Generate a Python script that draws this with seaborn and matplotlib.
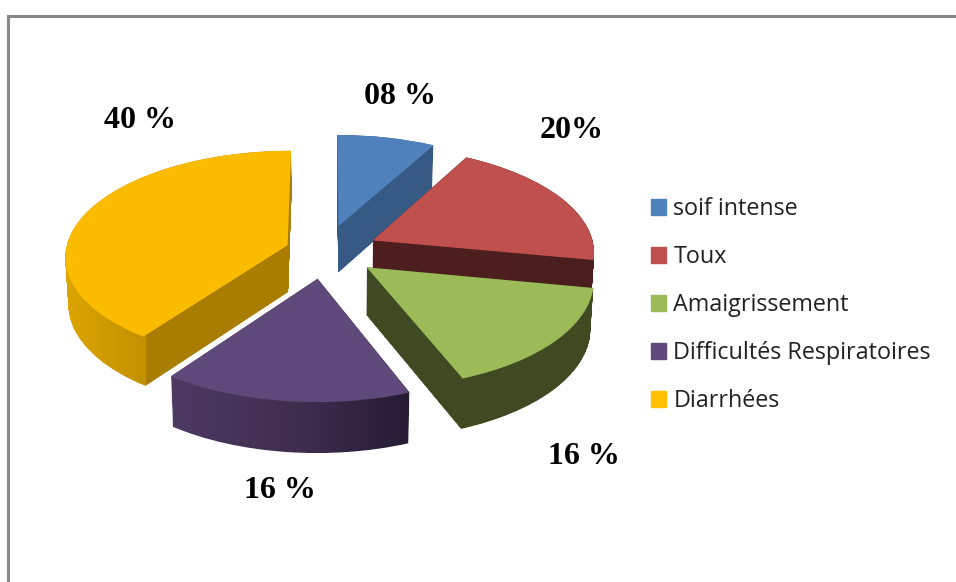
#Importing the libraries
import numpy as np
import matplotlib
matplotlib.use("Agg")
import matplotlib.pyplot as plt
import seaborn as sns
from matplotlib.path import Path
from matplotlib.transforms import Transform

#Chart data
categories = ["soif intense", "Toux", "Amaigrissement", "Difficultés Respiratoires", "Diarrhées"]
values = [8, 20, 16, 16, 40]
value_labels = ["08 %", "20%", "16 %", "16 %", "40 %"]
explode = [0.25, 0.24, 0.24, 0.26, 0.178]

#Colours of the top faces
top_colors = ["#4F81BD", "#C0504D", "#9BBB59", "#5F497A", "#FBBC00"]
legend_colors = ["#4F81BD", "#C0504D", "#9BBB59", "#5F497A", "#FFC000"]

#Side faces: (pixel x, colour) stops for the shading of each slice
side_shades = [
    [(330, "#375A85"), (440, "#375A85")],
    [(370, "#4F1F1F"), (600, "#4A1E1E")],
    [(360, "#414B22"), (600, "#3F4A22")],
    [(170, "#4E3A62"), (300, "#3F2D4F"), (410, "#251C33")],
    [(60, "#DDA700"), (145, "#C29100"), (146, "#A87D00"), (295, "#A87D00")],
]

#Which slice is painted first (back to front)
draw_order = [4, 0, 1, 3, 2]

#Geometry of the tilted disc, in pixels
CX, CY = 325, 251
RX, RY = 222, 105
PERSPECTIVE = 0.10
DEPTH = 47


#Turns the flat pie into the tilted one, z=0 is the top face and z=1 the bottom
class Tilt(Transform):
    input_dims = 2
    output_dims = 2
    is_separable = False

    def __init__(self, z=0.0):
        super().__init__()
        self.z = z

    def transform_non_affine(self, xy):
        xy = np.asarray(xy, dtype=float)
        s = 1 / (1 + PERSPECTIVE * xy[:, 1])
        x = CX + RX * s * xy[:, 0] * (1 - 0.012 * self.z)
        y = CY - RY * s * xy[:, 1] + DEPTH * self.z * s ** 0.6
        return np.column_stack([x, y])


sns.set_theme(style="white")
fig = plt.figure(figsize=(9.56, 5.82), dpi=100)
ax = fig.add_axes([0, 0, 1, 1])

wedges, _ = ax.pie(values, explode=explode, colors=sns.color_palette(top_colors),
                   startangle=90, counterclock=False)

ax.set_aspect("auto")
ax.set_xlim(0, 956)
ax.set_ylim(582, 0)

#Top faces and the extruded sides under them
for rank, i in enumerate(draw_order):
    w = wedges[i]
    w.set_transform(Tilt(0.0) + ax.transData)
    w.set_zorder(rank * 2 + 3)
    w.set_linewidth(0)

    flat = w.get_patch_transform().transform_path(w.get_path())
    layers = [Tilt(z).transform_path(flat) for z in np.linspace(0, 1, 60)]
    side = Path.make_compound_path(*layers)

    stops = side_shades[i]
    xs = np.arange(0, 956)
    rgb = np.array([matplotlib.colors.to_rgb(c) for _, c in stops])
    stop_x = [s[0] for s in stops]
    grad = np.stack([np.interp(xs, stop_x, rgb[:, k]) for k in range(3)], axis=1)[None, :, :]
    im = ax.imshow(grad, extent=[0, 956, 582, 0], aspect="auto", zorder=rank * 2 + 2,
                   interpolation="nearest")
    im.set_clip_path(side, transform=ax.transData)

ax.set_xlim(0, 956)
ax.set_ylim(582, 0)

#Percent labels
label_pos = [(400, 96), (572, 130), (584, 457), (280, 491), (140, 120)]
for txt, (x, y) in zip(value_labels, label_pos):
    ax.text(x, y, txt, ha="center", va="center", fontsize=23, fontweight="bold",
            family="Liberation Serif", color="black", zorder=20)

#Legend
handles = [plt.Rectangle((0, 0), 1, 1, color=c) for c in legend_colors]
ax.legend(handles, categories, loc="upper left", bbox_to_anchor=(644.5, 190),
          bbox_transform=ax.transData, frameon=False, prop={"family": "Open Sans", "size": 16.8},
          labelcolor="#222222", handlelength=0.64, handleheight=0.64, handletextpad=0.3,
          labelspacing=1.03, borderpad=0, borderaxespad=0.3)

#Grey outline of the chart area (left and top only, the rest is cut off)
ax.plot([8.5, 8.5, 956], [582, 15.5, 15.5], color="#888888", lw=2.2, zorder=1, solid_joinstyle="miter")

ax.axis("off")
fig.savefig("out.png", dpi=100, facecolor="white")
